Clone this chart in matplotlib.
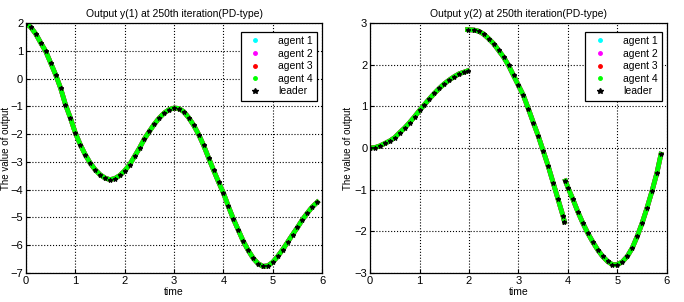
import numpy as np
import matplotlib.pyplot as plt

# output y(1): sampled every 0.1 s
t1 = np.round(np.arange(0, 60) * 0.1, 1)
y1 = [2.0, 1.84, 1.60, 1.28, 0.98, 0.56, 0.14, -0.34, -0.94, -1.42,
      -1.96, -2.38, -2.74, -3.04, -3.28, -3.46, -3.58, -3.64, -3.60, -3.49,
      -3.32, -3.10, -2.80, -2.50, -2.17, -1.90, -1.64, -1.42, -1.24, -1.12,
      -1.06, -1.08, -1.20, -1.42, -1.69, -2.02, -2.41, -2.86, -3.30, -3.72,
      -4.12, -4.60, -5.05, -5.45, -5.85, -6.18, -6.46, -6.66, -6.76, -6.74,
      -6.61, -6.40, -6.16, -5.89, -5.62, -5.36, -5.08, -4.84, -4.62, -4.45]

# output y(2): three pieces (jumps at t=2 and t~3.95)
t2a = [0.0, 0.1, 0.2, 0.3, 0.4, 0.5, 0.6, 0.7, 0.8, 0.9, 1.0,
       1.1, 1.2, 1.3, 1.4, 1.5, 1.6, 1.7, 1.8, 1.9, 1.97]
y2a = [0.0, 0.01, 0.05, 0.11, 0.17, 0.25, 0.37, 0.48, 0.61, 0.75, 0.9,
       1.04, 1.18, 1.31, 1.43, 1.54, 1.63, 1.71, 1.78, 1.82, 1.85]
t2b = [1.97, 2.1, 2.2, 2.3, 2.4, 2.5, 2.6, 2.7, 2.8, 2.9, 3.0,
       3.1, 3.2, 3.3, 3.4, 3.5, 3.6, 3.7, 3.8, 3.9, 3.93]
y2b = [2.84, 2.83, 2.80, 2.73, 2.62, 2.50, 2.34, 2.18, 1.98, 1.74, 1.50,
       1.26, 0.94, 0.61, 0.29, -0.07, -0.43, -0.83, -1.23, -1.63, -1.77]
t2c = [3.95, 4.0, 4.1, 4.2, 4.3, 4.4, 4.5, 4.6, 4.7, 4.8, 4.9,
       5.0, 5.1, 5.2, 5.3, 5.4, 5.5, 5.6, 5.7, 5.8, 5.88]
y2c = [-0.79, -0.95, -1.23, -1.53, -1.80, -2.04, -2.25, -2.44, -2.60, -2.72, -2.80,
       -2.80, -2.73, -2.60, -2.40, -2.12, -1.80, -1.43, -1.03, -0.59, -0.15]

agents = ['agent 1', 'agent 2', 'agent 3', 'agent 4']
agent_colors = ['#00ffff', '#ff00ff', '#ff0000', '#00ff00']
titles = ['Output y(1) at 250th iteration(PD-type)',
          'Output y(2) at 250th iteration(PD-type)']

plt.rcParams['font.family'] = ['Liberation Sans', 'DejaVu Sans']
fig = plt.figure(figsize=(6.84, 3.02), dpi=100)
ax1 = fig.add_axes([0.038, 0.096, 0.433, 0.828])
ax2 = fig.add_axes([0.541, 0.096, 0.434, 0.828])


def draw(ax, pieces, ylim, yticks, title):
    for name, col in zip(agents, agent_colors):
        for k, (t, y) in enumerate(pieces):
            ax.plot(t, y, '-', color=col, lw=3.4,
                    label=name if k == 0 else None)
    for k, (t, y) in enumerate(pieces):
        ax.plot(t, y, '*', color='black', ms=3.2, mew=0.9, ls='none',
                label='leader' if k == 0 else None)
    ax.set_xlim(0, 6)
    ax.set_ylim(*ylim)
    ax.set_xticks(range(0, 7))
    ax.set_yticks(yticks)
    ax.grid(True, color='black', ls=':', lw=0.8)
    ax.tick_params(labelsize=8, direction='in', length=3, pad=2)
    ax.set_title(title, fontsize=7.5, pad=4)
    ax.set_xlabel('time', fontsize=7.5, labelpad=1)
    ax.set_ylabel('The value of output', fontsize=7)
    for s in ax.spines.values():
        s.set_linewidth(0.9)
    # legend shows markers only, like the MATLAB original
    handles = [plt.Line2D([], [], ls='none', marker='.', color=c, ms=5)
               for c in agent_colors]
    handles.append(plt.Line2D([], [], ls='none', marker='*', color='black', ms=4))
    leg = ax.legend(handles, agents + ['leader'], loc='upper right',
                    fontsize=7.5, fancybox=False, framealpha=1,
                    edgecolor='black', borderpad=0.4, labelspacing=0.25,
                    handlelength=2.0, handletextpad=1.2,
                    bbox_to_anchor=(1.0, 0.985))
    leg.get_frame().set_linewidth(0.9)


draw(ax1, [(t1, y1)], (-7, 2), range(-7, 3), titles[0])
draw(ax2, [(t2a, y2a), (t2b, y2b), (t2c, y2c)], (-3, 3), range(-3, 4), titles[1])
# keep the y labels just inside the figure edge / gap
ax1.yaxis.set_label_coords(-0.052, 0.5)
ax2.yaxis.set_label_coords(-0.057, 0.5)

plt.savefig('out.png', dpi=100)
